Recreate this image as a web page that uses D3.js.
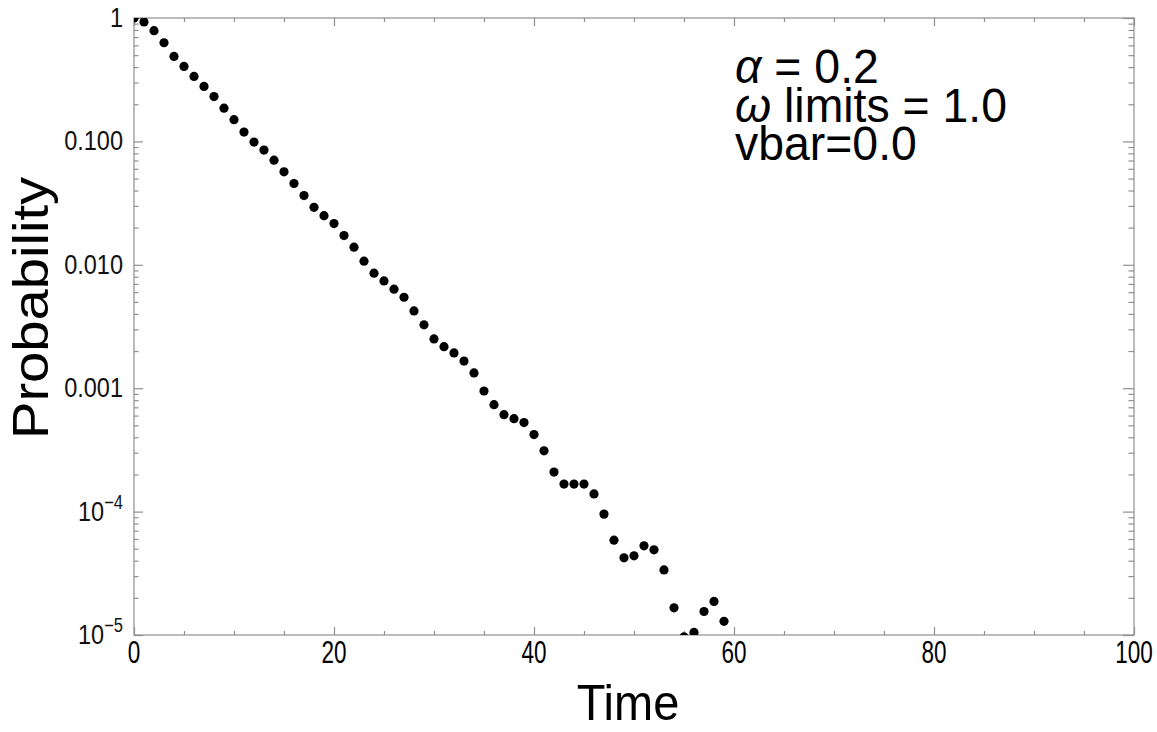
<!DOCTYPE html>
<html>
<head>
<meta charset="utf-8">
<script src="https://cdn.jsdelivr.net/npm/d3@7"></script>
<style>
  html, body { margin: 0; padding: 0; background: #fff; }
  svg { display: block; font-family: "Liberation Sans", Arial, Helvetica, sans-serif; }
</style>
</head>
<body>
<svg id="chart" width="1157" height="732"></svg>
<script>
// ---- data ----
const times = [0,1,2,3,4,5,6,7,8,9,10,11,12,13,14,15,16,17,18,19,20,21,22,23,24,25,26,27,28,29,
               30,31,32,33,34,35,36,37,38,39,40,41,42,43,44,45,46,47,48,49,50,51,52,53,54,55,56,57,58,59];
const probability = [1.0, 0.928, 0.789, 0.630, 0.488, 0.405, 0.336, 0.279, 0.231, 0.186,
                     0.150, 0.119, 0.0987, 0.0850, 0.0705, 0.0567, 0.0456, 0.0364, 0.0292, 0.0250,
                     0.0216, 0.01725, 0.01389, 0.01070, 0.00855, 0.00740, 0.00634, 0.00546, 0.00423, 0.00326,
                     0.00251, 0.00217, 0.00193, 0.00166, 0.00133, 0.000949, 0.000735, 0.000610, 0.000566, 0.000527,
                     0.000421, 0.000311, 0.000209, 0.000167, 0.000167, 0.000167, 0.000139, 0.0000954, 0.0000587, 0.0000422,
                     0.0000438, 0.0000528, 0.0000490, 0.0000337, 0.0000166, 0.00000964, 0.0000105, 0.0000155, 0.0000187, 0.0000129];
const xMajorTicks = [0, 20, 40, 60, 80, 100];
const xMinorTicks = [5,10,15,25,30,35,45,50,55,65,70,75,85,90,95];
const yMajorTicks = [1, 0.1, 0.01, 0.001, 1e-4, 1e-5];
const yTickLabels = ["1", "0.100", "0.010", "0.001", "10^-4", "10^-5"];
const annotation = [
  {sym: "α", rest: " = 0.2"},
  {sym: "ω", rest: " limits = 1.0"},
  {sym: "", rest: "vbar=0.0"}
];
const xTitle = "Time";
const yTitle = "Probability";

// ---- layout ----
const svg = d3.select("#chart");
const L = 134, R = 1134, T = 18, B = 635;
const x = d3.scaleLinear().domain([0, 100]).range([L, R]);
const y = d3.scaleLog().domain([1e-5, 1]).range([B, T]);
const axisColor = "#8f8f8f";

// minor y ticks 2..9 per decade
const yMinorTicks = [];
for (let e = -5; e < 0; e++) for (let k = 2; k <= 9; k++) yMinorTicks.push(k * Math.pow(10, e));

// frame
svg.append("rect").attr("x", L).attr("y", T).attr("width", R - L).attr("height", B - T)
  .attr("fill", "none").attr("stroke", axisColor).attr("stroke-width", 1.2);

function tickAxis(axisGen, transform, values, size) {
  const g = svg.append("g").attr("transform", transform)
    .call(axisGen.tickValues(values).tickSize(size).tickFormat(""));
  g.select(".domain").remove();
  g.selectAll(".tick line").attr("stroke", axisColor).attr("stroke-width", 1.2);
  return g;
}
// bottom & top (inward)
tickAxis(d3.axisBottom(x), `translate(0,${B})`, xMajorTicks, -8);
tickAxis(d3.axisBottom(x), `translate(0,${B})`, xMinorTicks, -4);
tickAxis(d3.axisTop(x), `translate(0,${T})`, xMajorTicks, -8);
tickAxis(d3.axisTop(x), `translate(0,${T})`, xMinorTicks, -4);
// left & right (inward)
tickAxis(d3.axisLeft(y), `translate(${L},0)`, yMajorTicks, -9);
tickAxis(d3.axisLeft(y), `translate(${L},0)`, yMinorTicks, -4.5);
tickAxis(d3.axisRight(y), `translate(${R},0)`, yMajorTicks, -11);
tickAxis(d3.axisRight(y), `translate(${R},0)`, yMinorTicks, -5.5);

// x tick labels (tall, narrow as in reference)
svg.append("g").selectAll("text").data(xMajorTicks).join("text")
  .attr("transform", d => `translate(${x(d)},${B + 28}) scale(1,1.4)`)
  .attr("text-anchor", "middle")
  .attr("font-size", 22.5)
  .attr("fill", "#000")
  .text(d => d);

// y tick labels
const yl = svg.append("g").selectAll("text").data(yMajorTicks).join("text")
  .attr("transform", d => `translate(${L - 11},${y(d) + 9}) scale(1,1.2)`)
  .attr("text-anchor", "end")
  .attr("font-size", 23.5)
  .attr("fill", "#111");
yl.each(function(d, i) {
  const lab = yTickLabels[i];
  const t = d3.select(this);
  if (lab.includes("^")) {
    const [base, exp] = lab.split("^");
    t.append("tspan").text(base);
    t.append("tspan").attr("dy", -10).attr("font-size", 16.5).text(exp.replace("-", "\u2212"));
  } else {
    t.text(lab);
  }
});

// points
svg.append("clipPath").attr("id", "plotclip")
  .append("rect").attr("x", L).attr("y", T).attr("width", R - L).attr("height", B - T);
svg.append("g").attr("clip-path", "url(#plotclip)")
  .selectAll("circle").data(times).join("circle")
  .attr("cx", (d) => x(d))
  .attr("cy", (d, i) => y(probability[i]))
  .attr("r", 4.6)
  .attr("fill", "#000");

// axis titles
svg.append("text")
  .attr("transform", `translate(${(L + R) / 2 - 6},720) scale(1,1.08)`)
  .attr("text-anchor", "middle")
  .attr("font-size", 47)
  .attr("fill", "#000")
  .text(xTitle);
svg.append("text")
  .attr("transform", `translate(48,${308}) rotate(-90) scale(1.17,1.03)`)
  .attr("text-anchor", "middle")
  .attr("font-size", 48)
  .attr("fill", "#000")
  .text(yTitle);

// annotation
const ann = svg.append("g");
annotation.forEach((a, i) => {
  const t = ann.append("text")
    .attr("transform", `translate(735,${83 + i * 38.5}) scale(1.02,1.05)`)
    .attr("font-size", 45.5)
    .attr("fill", "#000");
  if (a.sym) t.append("tspan").attr("font-style", "italic").text(a.sym);
  t.append("tspan").text(a.rest);
});
</script>
</body>
</html>
